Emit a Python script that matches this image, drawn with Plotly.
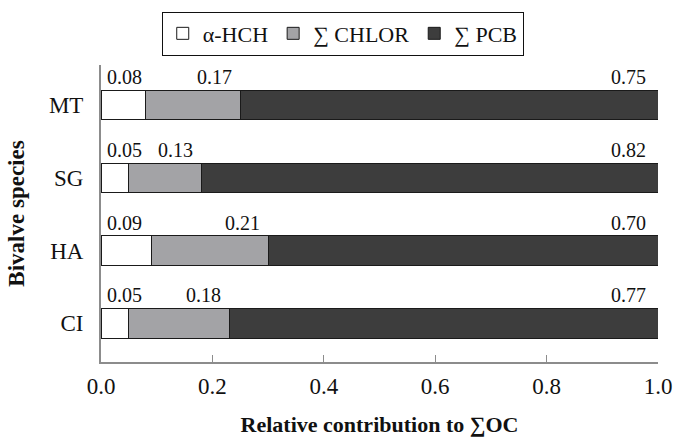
import plotly.graph_objects as go

# Relative contribution of each organochlorine group to total OC, per bivalve species
species = ["CI", "HA", "SG", "MT"]
hch = [0.05, 0.09, 0.05, 0.08]
chlor = [0.18, 0.21, 0.13, 0.17]
pcb = [0.77, 0.70, 0.82, 0.75]

series_names = ["\u03b1-HCH", "\u2211 CHLOR", "\u2211 PCB"]
series_colors = ["#ffffff", "#a3a3a6", "#3d3d3d"]
tick_vals = [0.0, 0.2, 0.4, 0.6, 0.8, 1.0]
tick_text = ["0.0", "0.2", "0.4", "0.6", "0.8", "1.0"]

FONT = "Liberation Serif, Times New Roman, serif"

fig = go.Figure()
for name, vals, color in zip(series_names, [hch, chlor, pcb], series_colors):
    fig.add_trace(go.Bar(
        y=species, x=vals, name=name, orientation="h",
        marker=dict(color=color, line=dict(color="#1a1a1a", width=1)),
        width=0.405,
    ))

# value labels above each bar
annotations = []
for sp, a, b, c in zip(species, hch, chlor, pcb):
    common = dict(y=sp, xref="x", yref="y", showarrow=False, yshift=28,
                  font=dict(family=FONT, size=20, color="#111111"))
    annotations.append(dict(x=0, text=f"{a:.2f}", xanchor="left", xshift=4, **common))
    annotations.append(dict(x=a + b, text=f"{b:.2f}", xanchor="right", xshift=-6, **common))
    annotations.append(dict(x=1.0, text=f"{c:.2f}", xanchor="right", xshift=-10, **common))

fig.update_layout(
    barmode="stack",
    width=675, height=437,
    margin=dict(l=101, r=17, t=65, b=75),
    paper_bgcolor="white", plot_bgcolor="white",
    font=dict(family=FONT, color="#111111"),
    annotations=annotations,
    legend=dict(
        orientation="h", x=0.434, xanchor="center", y=1.18, yanchor="top",
        bordercolor="#111111", borderwidth=1,
        font=dict(family=FONT, size=22), traceorder="normal",
        itemwidth=30, tracegroupgap=0,
    ),
    xaxis=dict(
        range=[0, 1.0], tickvals=tick_vals, ticktext=tick_text,
        showline=True, linecolor="#8c8c8c", linewidth=2,
        ticks="inside", ticklen=7, tickcolor="#8c8c8c", tickwidth=1,
        showgrid=False, zeroline=False, automargin=False,
        tickfont=dict(family=FONT, size=23), ticklabelstandoff=2,
        title=dict(text="<b>Relative contribution to \u2211OC</b>",
                   font=dict(family=FONT, size=22), standoff=32),
    ),
    yaxis=dict(
        categoryorder="array", categoryarray=species,
        range=[-0.53, 3.55], automargin=False,
        showline=True, linecolor="#8c8c8c", linewidth=2,
        ticks="", showgrid=False, zeroline=False,
        tickfont=dict(family=FONT, size=23), ticklabelstandoff=11,
        title=dict(text="<b>Bivalve species</b>",
                   font=dict(family=FONT, size=23), standoff=18),
    ),
)

fig.write_html("out.html")
